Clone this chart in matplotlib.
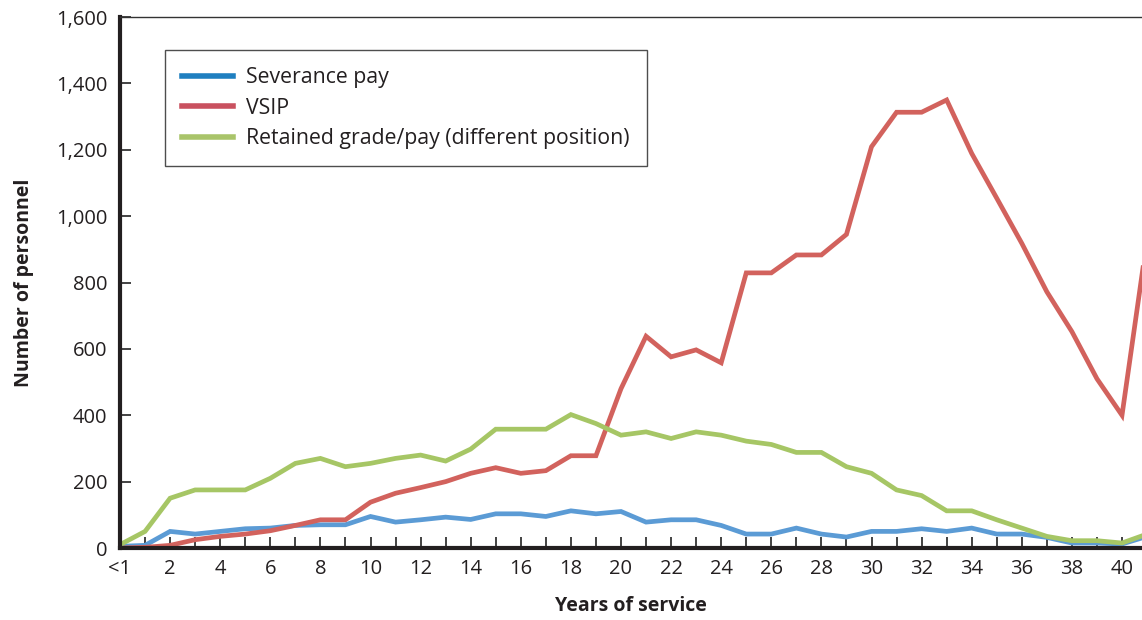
import numpy as np
import matplotlib
matplotlib.use('Agg')
import matplotlib.pyplot as plt
from matplotlib.lines import Line2D

plt.rcParams['font.family'] = ['Open Sans', 'DejaVu Sans']

# 資料
years = list(range(0, 42))
severance = [5, 8, 50, 42, 50, 58, 60, 68, 70, 70,
             95, 78, 85, 93, 86, 103, 103, 95, 112, 103,
             110, 78, 85, 85, 68, 42, 42, 60, 42, 33,
             50, 50, 58, 50, 60, 42, 42, 32, 15, 15,
             12, 35]
vsip = [0, 2, 8, 25, 35, 42, 52, 68, 85, 85,
        138, 165, 182, 200, 225, 242, 225, 233, 278, 278,
        480, 638, 576, 597, 558, 829, 829, 883, 883, 945,
        1209, 1313, 1313, 1350, 1189, 1054, 918, 772, 652, 510,
        400, 930]
retained = [10, 50, 150, 175, 175, 175, 210, 255, 270, 245,
            255, 270, 280, 262, 298, 358, 358, 358, 402, 375,
            340, 350, 330, 350, 340, 322, 312, 288, 288, 245,
            225, 175, 158, 112, 112, 85, 60, 35, 22, 22,
            15, 42]
series_names = ['Severance pay', 'VSIP', 'Retained grade/pay (different position)']
line_colors = ['#5b9bd5', '#d2625d', '#a6c665']
legend_colors = ['#1f7fc0', '#c9515f', '#a9c46a']
xtick_pos = list(range(0, 41, 2))
xtick_labels = ['<1'] + [str(v) for v in range(2, 41, 2)]
ytick_pos = list(range(0, 1601, 200))

fig = plt.figure(figsize=(11.42, 6.2), dpi=100)
ax = fig.add_axes([120/1142, 1 - 548/620, 1 - 120/1142, (548 - 17)/620])

for vals, c in zip([severance, vsip, retained], line_colors):
    ax.plot(years, vals, color=c, lw=3.4, solid_joinstyle='miter')

ax.set_xlim(0, (1142 - 120) / 25.05)
ax.set_ylim(0, 1600)

ax.spines['right'].set_visible(False)
ax.spines['left'].set_linewidth(3.0)
ax.spines['bottom'].set_linewidth(3.0)
ax.spines['top'].set_linewidth(1.0)
ax.spines['top'].set_color('#333333')
ax.spines['left'].set_color('#231f20')
ax.spines['bottom'].set_color('#231f20')

ax.set_xticks(range(0, 41), minor=True)
ax.set_xticks(xtick_pos)
ax.set_xticklabels(xtick_labels)
ax.set_yticks(ytick_pos)
ax.set_yticklabels([f'{v:,}' for v in ytick_pos])
ax.tick_params(axis='x', which='both', direction='in', length=8, width=1.2, color='#222222',
               labelsize=14.5, pad=8, labelcolor='#231f20')
ax.tick_params(axis='y', direction='in', length=8, width=1.2, color='#222222',
               labelsize=14.5, pad=9, labelcolor='#231f20')

ax.set_xlabel('Years of service', fontsize=14, fontweight='bold', labelpad=12, color='#231f20')
ax.set_ylabel('Number of personnel', fontsize=14, fontweight='bold', labelpad=16, color='#231f20')

handles = [Line2D([0], [0], color=c, lw=4) for c in legend_colors]
leg = ax.legend(handles, series_names, loc='upper left',
                bbox_to_anchor=((165 - 120)/1022, (548 - 50)/531),
                borderaxespad=0, fontsize=15.3, frameon=True, fancybox=False,
                handlelength=2.4, handletextpad=0.62, labelspacing=0.45,
                borderpad=0.8)
leg.get_frame().set_edgecolor('#222222')
leg.get_frame().set_linewidth(1.0)
for t in leg.get_texts():
    t.set_color('#231f20')

fig.savefig('out.png', dpi=100)
